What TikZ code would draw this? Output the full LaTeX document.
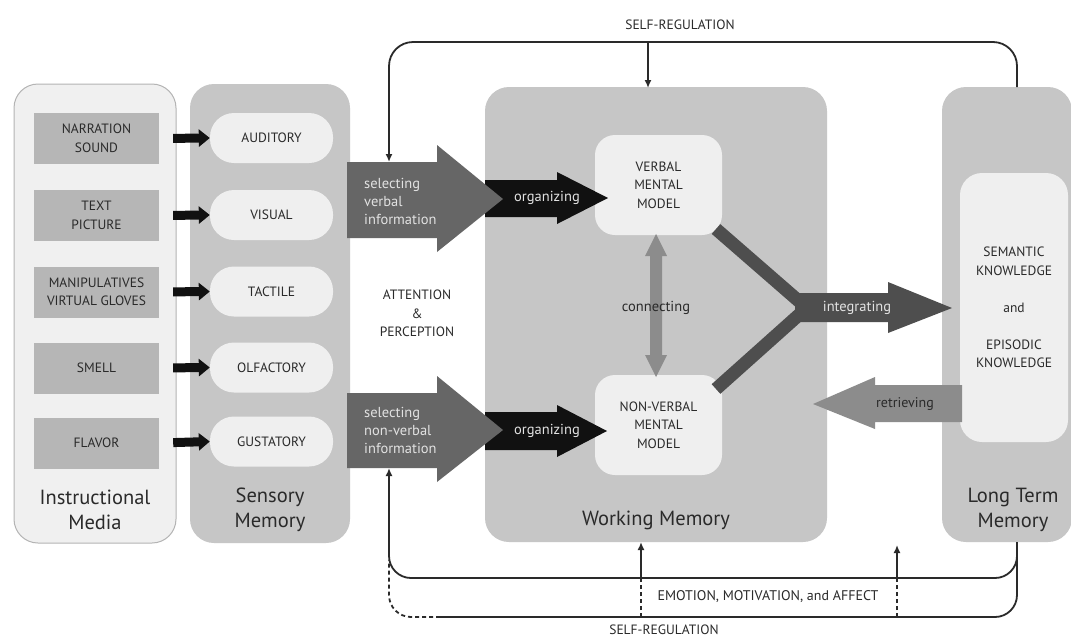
\documentclass[tikz,border=0pt]{standalone}
\usepackage{fontspec}
\setmainfont{PT Sans}
\usetikzlibrary{arrows.meta}

\definecolor{txt}{HTML}{2A2A2A}
\definecolor{paleFill}{HTML}{F0F0F0}
\definecolor{paleEdge}{HTML}{B4B4B4}
\definecolor{panel}{HTML}{C6C6C6}
\definecolor{itemFill}{HTML}{B6B6B6}
\definecolor{pillFill}{HTML}{EFEFEF}
\definecolor{selFill}{HTML}{666666}
\definecolor{orgFill}{HTML}{111111}
\definecolor{intFill}{HTML}{4E4E4E}
\definecolor{midFill}{HTML}{8C8C8C}
\definecolor{lineCol}{HTML}{2A2A2A}
\definecolor{onDark}{HTML}{E2E2E2}

\tikzset{
  lbl/.style={font=\fontsize{13.5}{18.5}\selectfont, text=txt, align=center, inner sep=0pt},
  title/.style={font=\fontsize{20.5}{25}\selectfont, text=txt, align=center, inner sep=0pt},
  panelbox/.style={fill=panel, draw=none, rounded corners=24pt, inner sep=0pt},
  itembox/.style={fill=itemFill, draw=none, minimum width=125pt, minimum height=51pt, inner sep=0pt, lbl},
  pill/.style={fill=pillFill, draw=none, rounded corners=24pt, minimum width=123pt, minimum height=50pt, inner sep=0pt, lbl},
  modelbox/.style={fill=pillFill, draw=none, rounded corners=20pt, minimum width=127pt, minimum height=100pt, inner sep=0pt, lbl},
  feed/.style={line width=9pt, -{Triangle[length=11pt,width=17pt]}, draw=orgFill, shorten <=14pt},
  reg/.style={draw=lineCol, line width=1.8pt},
  regtip/.style={reg, -{Latex[length=8pt,width=7pt]}},
  regdash/.style={draw=lineCol, line width=1.8pt, dash pattern=on 4pt off 3pt},
  inarrow/.style={font=\fontsize{14.5}{18}\selectfont, text=onDark, align=left, inner sep=0pt},
  smallcaps/.style={lbl, font=\fontsize{13.5}{16}\selectfont},
}

\begin{document}
\begin{tikzpicture}[x=1pt,y=-1pt]
\useasboundingbox (0,0) rectangle (1071,638);
\fill[white] (0,0) rectangle (1071,638);

% ---- outer panels ----
\node[fill=paleFill, draw=paleEdge, line width=1pt, rounded corners=24pt,
      minimum width=162pt, minimum height=459pt, inner sep=0pt] (media) at (95,313.5) {};
\node[panelbox, minimum width=160pt, minimum height=459pt] (sensory) at (270,313.5) {};
\node[panelbox, minimum width=342pt, minimum height=455pt] (wm) at (656,314.5) {};
\node[panelbox, minimum width=130pt, minimum height=455pt] (ltm) at (1007,314.5) {};

% ---- media items and sensory channels ----
\node[itembox] (m1) at (96.5,138.5) {NARRATION\\SOUND};
\node[itembox] (m2) at (96.5,215.5) {TEXT\\PICTURE};
\node[itembox] (m3) at (96.5,292) {MANIPULATIVES\\VIRTUAL GLOVES};
\node[itembox] (m4) at (96.5,368) {SMELL};
\node[itembox] (m5) at (96.5,443) {FLAVOR};

\node[pill] (s1) at (271.5,138) {AUDITORY};
\node[pill] (s2) at (271.5,215) {VISUAL};
\node[pill] (s3) at (271.5,291.5) {TACTILE};
\node[pill] (s4) at (271.5,367.5) {OLFACTORY};
\node[pill] (s5) at (271.5,441.5) {GUSTATORY};

\foreach \i in {1,...,5} {
  \draw[feed] (m\i.east) -- (s\i.west);
}

\node[title] (tmedia) at (95,510) {Instructional\\Media};
\node[title] (tsens) at (270,510) {Sensory\\Memory};
\node[title] (twm) at (656,520) {Working Memory};
\node[title] (tltm) at (1013,510) {Long Term\\Memory};

\node[lbl] (attn) at (417,313.5) {ATTENTION\\\&\\PERCEPTION};

% ---- working memory models ----
\node[modelbox] (verbal) at (658.5,185) {VERBAL\\MENTAL\\MODEL};
\node[modelbox] (nonverbal) at (658.5,425) {NON-VERBAL\\MENTAL\\MODEL};

% ---- long term knowledge ----
\node[fill=pillFill, rounded corners=22pt, minimum width=108pt, minimum height=269pt, inner sep=0pt,
      lbl, font=\fontsize{13.5}{18.5}\selectfont] (know) at (1014,307.5)
      {SEMANTIC\\KNOWLEDGE\\[18.5pt]and\\[18.5pt]EPISODIC\\KNOWLEDGE};

% ---- organizing arrows ----
\fill[orgFill] (485,180) -- (557,180) -- (557,172) -- (608,198) -- (557,224) -- (557,217) -- (485,217) -- cycle;
\fill[orgFill] (485,412) -- (557,412) -- (557,405) -- (607,431) -- (557,457) -- (557,450) -- (485,450) -- cycle;
\node[inarrow] (org1) at (547,198) {organizing};
\node[inarrow] (org2) at (547,431) {organizing};

% ---- selecting arrows ----
\fill[selFill] (347,162) -- (437,162) -- (437,145) -- (503,199) -- (437,252) -- (437,238) -- (347,238) -- cycle;
\fill[selFill] (347,393) -- (437,393) -- (437,376) -- (503,430) -- (437,482) -- (437,468) -- (347,468) -- cycle;
\node[inarrow, anchor=west] (sel1) at (364,201) {selecting\\verbal\\information};
\node[inarrow, anchor=west] (sel2) at (364,430) {selecting\\non-verbal\\information};

% ---- connecting ----
\fill[midFill] (656,234) -- (667,256) -- (662,256) -- (662,355) -- (667,355) -- (656,377)
  -- (645,355) -- (650,355) -- (650,256) -- (645,256) -- cycle;
\node[lbl, font=\fontsize{14.5}{16}\selectfont] (conn) at (656,308) {connecting};

% ---- integrating ----
\draw[intFill, line width=13pt] (716,229) -- (801,303);
\draw[intFill, line width=13pt] (801,313) -- (716,389);
\fill[intFill] (795,293) -- (888,293) -- (888,282) -- (952,308) -- (888,333) -- (888,322) -- (795,322) -- cycle;
\node[inarrow] (integ) at (857,308) {integrating};

% ---- retrieving ----
\fill[midFill] (962,385) -- (875,385) -- (875,377) -- (813,404) -- (875,429) -- (875,422) -- (962,422) -- cycle;
\node[lbl, font=\fontsize{14}{16}\selectfont] (retr) at (905,404) {retrieving};

% ---- self-regulation (top) ----
\coordinate (ltmTop) at (1017,87);
\coordinate (cornerTL) at (389,42);
\coordinate (selTop) at (389,162);
\coordinate (srTop) at (648,42);
\coordinate (wmTop) at (648,88);
\draw[regtip, rounded corners=24pt] (ltmTop) |- (cornerTL) -- (selTop);
\draw[regtip] (srTop) -- (wmTop);
\node[smallcaps] (srlabel) at (680,25) {SELF-REGULATION};

% ---- emotion loop and self-regulation (bottom) ----
\coordinate (ltmBot) at (1017,542);
\coordinate (selBot) at (389,468);
\coordinate (rowA) at (389,578);
\coordinate (rowB) at (440,617);
\coordinate (leftMid) at (389,560);
\draw[regtip, rounded corners=22pt] (ltmBot) |- (rowA) -- (selBot);
\draw[reg, rounded corners=22pt] (ltmBot) |- (rowB);
\draw[regdash, rounded corners=22pt] (rowB) -| (leftMid);

\coordinate (eA1) at (641,617);
\coordinate (eA2) at (641,578);
\coordinate (wmBot) at (641,542);
\coordinate (eB1) at (897,617);
\coordinate (eB2) at (897,578);
\coordinate (eB3) at (897,545);
\draw[regdash] (eA1) -- (eA2);
\draw[regtip] (eA2) -- (wmBot);
\draw[regdash] (eB1) -- (eB2);
\draw[regtip] (eB2) -- (eB3);
\node[lbl, font=\fontsize{14}{16}\selectfont] (emo) at (768,597) {EMOTION, MOTIVATION, and AFFECT};
\node[smallcaps] (srlabel2) at (664,629.5) {SELF-REGULATION};
\end{tikzpicture}
\end{document}
